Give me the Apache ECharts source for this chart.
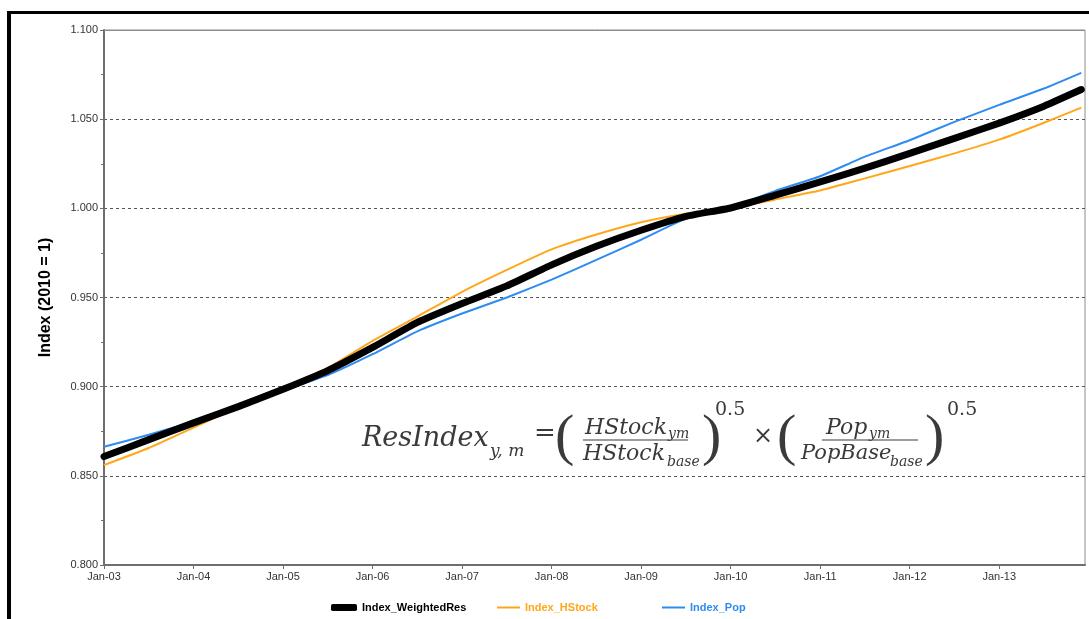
<!DOCTYPE html>
<html>
<head>
<meta charset="utf-8">
<script src="https://cdn.jsdelivr.net/npm/echarts@6/dist/echarts.min.js"></script>
<style>
  html, body { margin: 0; padding: 0; background: #fff; }
  #chart { width: 1089px; height: 619px; }
</style>
</head>
<body>
<div id="chart"></div>
<script>
// months since Jan-03
var months = [0, 6, 12, 18, 24, 30, 36, 42, 48, 54, 60, 66, 72, 78, 84, 90, 96, 102, 108, 114, 120, 126, 131];
var weightedRes = [0.8608, 0.8703, 0.8797, 0.8888, 0.8985, 0.9090, 0.9220, 0.9360, 0.9466, 0.9565, 0.9683, 0.9787, 0.9877, 0.9955, 1.0002, 1.0074, 1.0148, 1.0225, 1.0308, 1.0392, 1.0478, 1.0573, 1.0666];
var hStock = [0.8560, 0.8656, 0.8770, 0.8885, 0.8995, 0.9105, 0.9257, 0.9393, 0.9532, 0.9655, 0.9770, 0.9853, 0.9922, 0.9970, 1.0000, 1.0050, 1.0100, 1.0168, 1.0237, 1.0308, 1.0385, 1.0480, 1.0565];
var pop = [0.8663, 0.8730, 0.8805, 0.8890, 0.8980, 0.9065, 0.9182, 0.9310, 0.9410, 0.9500, 0.9600, 0.9711, 0.9824, 0.9942, 1.0005, 1.0098, 1.0180, 1.0290, 1.0382, 1.0485, 1.0580, 1.0672, 1.0760];
var xLabels = ['Jan-03', 'Jan-04', 'Jan-05', 'Jan-06', 'Jan-07', 'Jan-08', 'Jan-09', 'Jan-10', 'Jan-11', 'Jan-12', 'Jan-13'];

function pairs(vals) {
  return months.map(function (m, i) { return [m, vals[i]]; });
}

var chart = echarts.init(document.getElementById('chart'));
var FONT = 'Liberation Sans, Arial, sans-serif';
var MATH = 'DejaVu Serif, serif';
var mathColor = '#3a3a3a';

// one piece of the formula text
function mt(x, y, text, size, italic, family) {
  return {
    type: 'text', left: x, top: y, silent: true, z: 10,
    style: { text: text, fontFamily: family || MATH, fontSize: size, fontStyle: italic === false ? 'normal' : 'italic', fill: mathColor }
  };
}
function paren(x, ch) {
  return mt(x, 410, ch, 58, false, 'Liberation Serif, serif');
}

var option = {
  animation: false,
  grid: { left: 104, top: 30, right: 4, bottom: 54, show: true, borderColor: '#8c8c8c', borderWidth: 1 },
  xAxis: {
    type: 'value', min: 0, max: 131.5, interval: 12,
    axisLine: { show: true, lineStyle: { color: '#6e6e6e', width: 2 } },
    axisTick: { show: true, length: 4, lineStyle: { color: '#6e6e6e' } },
    splitLine: { show: false },
    axisLabel: {
      fontFamily: FONT, fontSize: 11, color: '#333', margin: 6, showMaxLabel: false,
      formatter: function (v) { return v % 12 === 0 ? (xLabels[v / 12] || '') : ''; }
    }
  },
  yAxis: {
    type: 'value', min: 0.8, max: 1.1, interval: 0.05,
    name: 'Index (2010 = 1)', nameLocation: 'middle', nameGap: 50,
    nameTextStyle: { fontFamily: FONT, fontSize: 16, fontWeight: 'bold', color: '#000' },
    axisLine: { show: true, lineStyle: { color: '#6e6e6e', width: 2 } },
    axisTick: { show: true, length: 4, lineStyle: { color: '#6e6e6e' } },
    minorTick: { show: true, splitNumber: 2, length: 3, lineStyle: { color: '#6e6e6e' } },
    splitLine: { show: true, lineStyle: { color: '#555', type: [3, 3], width: 1 } },
    axisLabel: {
      fontFamily: FONT, fontSize: 11, color: '#333', margin: 6,
      formatter: function (v) { return v.toFixed(3); }
    }
  },
  legend: [
    { left: 326, top: 597, itemWidth: 26, itemHeight: 7, icon: 'roundRect', itemGap: 0,
      data: ['Index_WeightedRes'],
      textStyle: { fontFamily: FONT, fontSize: 11, fontWeight: 'bold', color: '#000' } },
    { left: 492, top: 597, itemWidth: 23, itemHeight: 2, icon: 'rect', itemGap: 0,
      data: ['Index_HStock'],
      textStyle: { fontFamily: FONT, fontSize: 11, fontWeight: 'bold', color: '#FFA71A' } },
    { left: 657, top: 597, itemWidth: 23, itemHeight: 2, icon: 'rect', itemGap: 0,
      data: ['Index_Pop'],
      textStyle: { fontFamily: FONT, fontSize: 11, fontWeight: 'bold', color: '#2E8BF0' } }
  ],
  series: [
    { name: 'Index_HStock', type: 'line', data: pairs(hStock), showSymbol: false, smooth: 0.15,
      lineStyle: { color: '#FFA71A', width: 2 }, itemStyle: { color: '#FFA71A' } },
    { name: 'Index_Pop', type: 'line', data: pairs(pop), showSymbol: false, smooth: 0.15,
      lineStyle: { color: '#2E8BF0', width: 2 }, itemStyle: { color: '#2E8BF0' } },
    { name: 'Index_WeightedRes', type: 'line', data: pairs(weightedRes), showSymbol: false, smooth: 0.15,
      lineStyle: { color: '#000', width: 7, join: 'round', cap: 'round' }, itemStyle: { color: '#000' } }
  ],
  graphic: [
    // outer black frame (left and top)
    { type: 'line', silent: true, shape: { x1: 9, y1: 11, x2: 9, y2: 619 }, style: { stroke: '#000', lineWidth: 4 } },
    { type: 'line', silent: true, shape: { x1: 7, y1: 12.5, x2: 1089, y2: 12.5 }, style: { stroke: '#000', lineWidth: 3 } },
    // solid top edge of the plot frame
    { type: 'line', silent: true, z: 5, shape: { x1: 104, y1: 30.5, x2: 1085, y2: 30.5 }, style: { stroke: '#8c8c8c', lineWidth: 1 } },
    // formula
    mt(362, 425, 'ResIndex', 27),
    mt(490, 443, 'y, m', 17),
    mt(534, 421, '=', 26, false),
    paren(555, '('),
    mt(585, 417, 'HStock', 22),
    mt(668, 427, 'ym', 14),
    { type: 'line', silent: true, z: 10, shape: { x1: 583, y1: 440, x2: 688, y2: 440 }, style: { stroke: mathColor, lineWidth: 1.2 } },
    mt(583, 443, 'HStock', 22),
    mt(667, 455, 'base', 14),
    paren(702, ')'),
    mt(715, 401, '0.5', 19, false),
    mt(753, 425, '\u00d7', 24, false),
    paren(777, '('),
    mt(826, 417, 'Pop', 22),
    mt(869, 427, 'ym', 14),
    { type: 'line', silent: true, z: 10, shape: { x1: 822, y1: 440, x2: 918, y2: 440 }, style: { stroke: mathColor, lineWidth: 1.2 } },
    mt(801, 443, 'PopBase', 21),
    mt(890, 455, 'base', 14),
    paren(925, ')'),
    mt(947, 401, '0.5', 19, false)
  ]
};
chart.setOption(option);
</script>
</body>
</html>
